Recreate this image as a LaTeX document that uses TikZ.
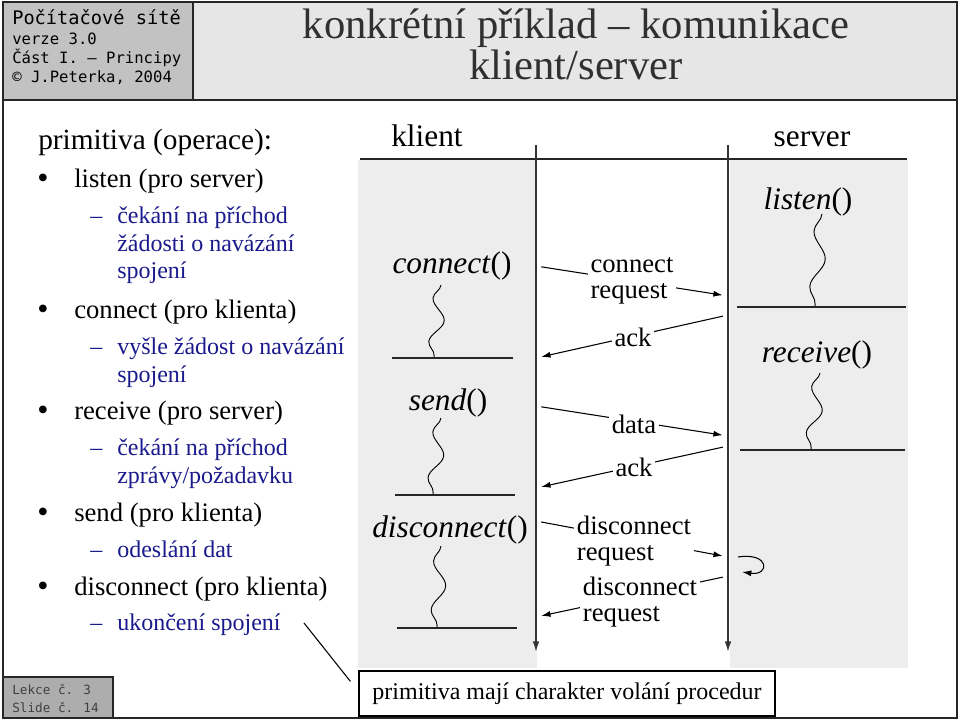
\documentclass[tikz,border=0pt]{standalone}
\usepackage{fontspec}
\setmainfont{Liberation Serif}
\newfontfamily\hdrmono{DejaVu Sans Mono}
\usetikzlibrary{arrows.meta, decorations.pathmorphing, positioning}
\definecolor{hdrgray}{HTML}{C2C2C2}
\definecolor{lekcegray}{HTML}{ADADAD}
\definecolor{titlegray}{HTML}{E6E6E6}
\definecolor{bandgray}{HTML}{EDEDED}
\definecolor{subblue}{HTML}{1A1A8C}
\definecolor{titletext}{HTML}{303030}

\begin{document}
\begin{tikzpicture}[
        x=0.75pt, y=-0.75pt,
        every node/.style={inner sep=0pt},
        frame/.style={draw=black!85, line width=1.1pt},
        item/.style={anchor=base west, font=\fontsize{20}{24}\selectfont},
        subitem/.style={anchor=base west, text=subblue, font=\fontsize{18}{22}\selectfont},
        bulletmark/.style={anchor=base, font=\fontsize{24}{26}\selectfont},
        hdrtext/.style={anchor=base west, font=\hdrmono\fontsize{11.7}{14}\selectfont},
        lektext/.style={anchor=base west, text=black!75, font=\hdrmono\fontsize{9.5}{12}\selectfont},
        titletxt/.style={anchor=base, text=titletext, font=\fontsize{32}{36}\selectfont},
        side/.style={anchor=base, font=\fontsize{23.5}{26}\selectfont},
        fnlabel/.style={anchor=base, font=\fontsize{23.5}{26}\selectfont},
        msglabel/.style={fill=white, inner sep=2pt, align=left, font=\fontsize{20}{19.5}\selectfont},
        life/.style={draw=black!80, line width=1.1pt, -{Latex[length=8pt, width=5pt]}},
        msg/.style={draw=black, line width=0.8pt, -{Latex[length=7pt, width=4.5pt]}, shorten <=4pt, shorten >=4pt},
        rule/.style={draw=black!85, line width=1pt},
        wave/.style={draw=black, line width=0.7pt, decorate,
            decoration={snake, amplitude=5pt, segment length=#1, mirror}}
    ]
    \useasboundingbox (0,0) rectangle (960,720);

    % header
    \fill[hdrgray] (3,2) rectangle (193,100);
    \fill[titlegray] (193,2) rectangle (957,100);
    \node[anchor=base west, font=\hdrmono\fontsize{14}{16}\selectfont] (course) at (12,25) {Počítačové sítě};
    \node[hdrtext] (version) at (12,45) {verze 3.0};
    \node[hdrtext] (part) at (12,64) {Část I. – Principy};
    \node[hdrtext] (author) at (12,83) {© J.Peterka, 2004};
    \node[titletxt] (title1) at (576,39) {konkrétní příklad – komunikace};
    \node[titletxt] (title2) at (576,80) {klient/server};

    % frame
    \draw[frame] (3,2) rectangle (957,718);
    \draw[frame] (3,100) -- (957,100);
    \draw[frame] (193,2) -- (193,100);
    \draw[frame, fill=lekcegray] (3,677) rectangle (113,718);
    \node[lektext] (lesson) at (12,694) {Lekce č. 3};
    \node[lektext] (slide) at (12,712) {Slide č. 14};

    % list of primitives
    \node[item, font=\fontsize{22}{24}\selectfont] (head) at (38,150) {primitiva (operace):};
    \node[bulletmark] (b1) at (43,189) {•};
    \node[item] (listen) at (74,188) {listen (pro server)};
    \node[subitem] (d1) at (90,224) {–};
    \node[subitem] (listen1) at (117,224) {čekání na příchod};
    \node[subitem] (listen2) at (117,252) {žádosti o navázání};
    \node[subitem] (listen3) at (117,279) {spojení};
    \node[bulletmark] (b2) at (43,320) {•};
    \node[item] (connect) at (74,319) {connect (pro klienta)};
    \node[subitem] (d2) at (90,354) {–};
    \node[subitem] (connect1) at (117,354) {vyšle žádost o navázání};
    \node[subitem] (connect2) at (117,382) {spojení};
    \node[bulletmark] (b3) at (43,420) {•};
    \node[item] (receive) at (74,419) {receive (pro server)};
    \node[subitem] (d3) at (90,455) {–};
    \node[subitem] (receive1) at (117,455) {čekání na příchod};
    \node[subitem] (receive2) at (117,483) {zprávy/požadavku};
    \node[bulletmark] (b4) at (43,522) {•};
    \node[item] (send) at (74,521) {send (pro klienta)};
    \node[subitem] (d4) at (90,557) {–};
    \node[subitem] (send1) at (117,557) {odeslání dat};
    \node[bulletmark] (b5) at (43,596) {•};
    \node[item] (disconnect) at (74,595) {disconnect (pro klienta)};
    \node[subitem] (d5) at (90,630) {–};
    \node[subitem] (disconnect1) at (117,630) {ukončení spojení};

    % client and server columns
    \fill[bandgray] (358,160) rectangle (537,668);
    \fill[bandgray] (730,160) rectangle (908,668);
    \node[side] (klient) at (427,147) {klient};
    \node[side] (server) at (812,147) {server};
    \draw[rule] (360,159) -- (907,159);

    \coordinate (kTop) at (536,145);
    \coordinate (kBot) at (536,652);
    \coordinate (sTop) at (728,145);
    \coordinate (sBot) at (728,652);
    \draw[life] (kTop) -- (kBot);
    \draw[life] (sTop) -- (sBot);

    % client calls
    \node[fnlabel] (fConnect) at (452,274) {\textit{connect}()};
    \node[fnlabel] (fSend) at (448,410) {\textit{send}()};
    \node[fnlabel] (fDisc) at (450,537) {\textit{disconnect}()};
    \draw[rule] (392,358) -- (513,358);
    \draw[rule] (395,495) -- (515,495);
    \draw[rule] (397,628) -- (517,628);
    \coordinate (w1a) at (441,285); \coordinate (w1b) at (434,357);
    \coordinate (w2a) at (441,418); \coordinate (w2b) at (433,494);
    \coordinate (w3a) at (441,546); \coordinate (w3b) at (437,627);
    \draw[wave=32.8pt] (w1a) -- (w1b);
    \draw[wave=34.6pt] (w2a) -- (w2b);
    \draw[wave=36.7pt] (w3a) -- (w3b);

    % server calls
    \node[fnlabel] (fListen) at (808,210) {\textit{listen}()};
    \node[fnlabel] (fRecv) at (817,362) {\textit{receive}()};
    \draw[rule] (737,307) -- (906,307);
    \draw[rule] (740,450) -- (905,450);
    \coordinate (w4a) at (822,214); \coordinate (w4b) at (815,306);
    \coordinate (w5a) at (820,373); \coordinate (w5b) at (811,449);
    \draw[wave=41.8pt] (w4a) -- (w4b);
    \draw[wave=34.7pt] (w5a) -- (w5b);

    % messages
    \coordinate (k1) at (536,266); \coordinate (s1) at (728,296);
    \coordinate (s2) at (728,315); \coordinate (k2) at (536,358);
    \coordinate (k3) at (536,406); \coordinate (s3) at (728,436);
    \coordinate (s4) at (728,446); \coordinate (k4) at (536,488);
    \coordinate (k5) at (536,521); \coordinate (s5) at (728,557);
    \coordinate (s6) at (728,576); \coordinate (k6) at (536,617);
    \draw[msg] (k1) -- (s1);
    \draw[msg] (s2) -- (k2);
    \draw[msg] (k3) -- (s3);
    \draw[msg] (s4) -- (k4);
    \draw[msg] (k5) -- (s5);
    \draw[msg] (s6) -- (k6);
    \node[msglabel] (mConnReq) at (632,281) {connect\\request};
    \node[msglabel] (mAck1) at (633,337) {ack};
    \node[msglabel] (mData) at (634,424) {data};
    \node[msglabel] (mAck2) at (634,467) {ack};
    \node[msglabel] (mDiscReq) at (634,541) {disconnect\\request};
    \node[msglabel] (mDiscAns) at (640,602) {disconnect\\request};

    % server closes too
    \coordinate (loopA) at (738,557);
    \coordinate (loopB) at (742,572);
    \draw[msg, shorten <=0pt, shorten >=0pt] (loopA) .. controls (770,552) and (770,576) .. (loopB);

    % note
    \node[draw=black, line width=0.9pt, minimum width=312pt, minimum height=33.75pt,
          font=\fontsize{18}{22}\selectfont] (note) at (567,693.5)
          {primitiva mají charakter volání procedur};
    \coordinate (noteFrom) at (304,623);
    \draw[line width=0.8pt] (noteFrom) -- ([shift={(-8,11)}]note.north west);

\end{tikzpicture}
\end{document}
